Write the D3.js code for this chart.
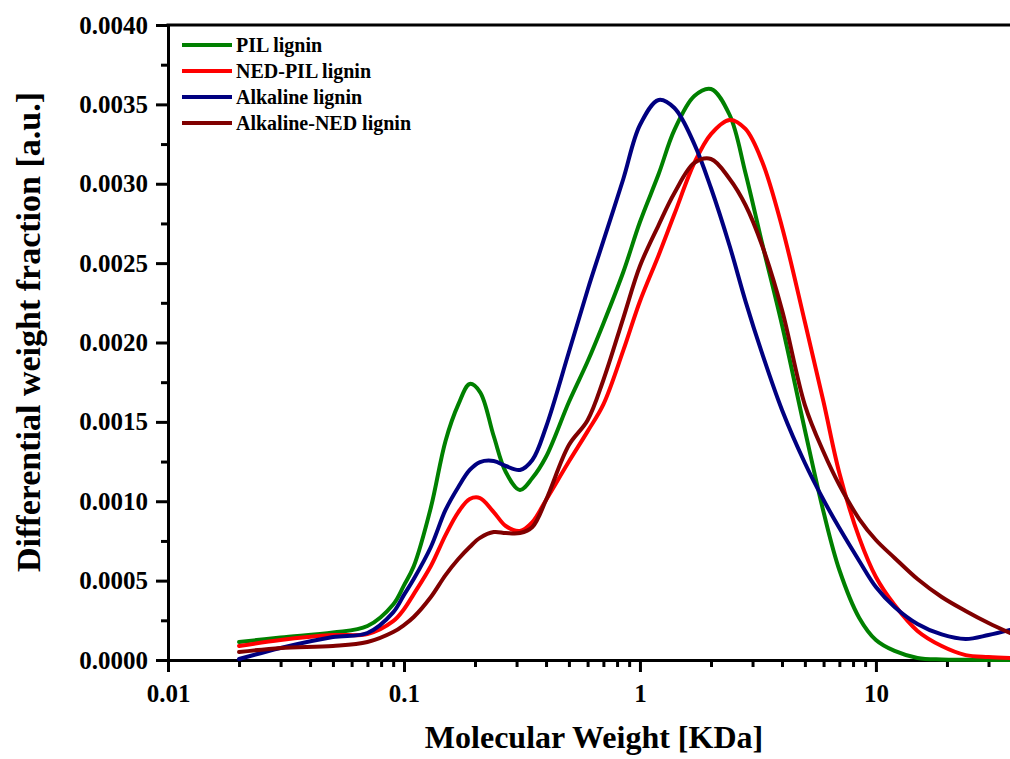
<!DOCTYPE html>
<html>
<head>
<meta charset="utf-8">
<script src="https://cdn.jsdelivr.net/npm/d3@7"></script>
<style>
  body { margin: 0; background: #fff; }
  #chart text { font-family: "Liberation Serif", "Times New Roman", serif; font-weight: bold; fill: #000; }
</style>
</head>
<body>
<div id="chart"></div>
<script>
// Molecular weight [KDa]
var molWeight = [0.02, 0.03, 0.05, 0.07, 0.09, 0.1, 0.11, 0.13, 0.15, 0.17, 0.19, 0.21, 0.24, 0.27, 0.31, 0.35, 0.4, 0.5, 0.6, 0.7,
  0.85, 1.0, 1.2, 1.4, 1.7, 2.0, 2.4, 2.8, 3.3, 4, 5, 6, 7, 8.5, 10, 12, 15, 19, 24, 30, 37];

var pilLignin = [0.000113, 0.000142, 0.000173, 0.000214, 0.000350, 0.000470, 0.000590, 0.000960, 0.001380, 0.001610, 0.001739,
  0.001688, 0.001411, 0.001184, 0.001071, 0.001146, 0.001280, 0.001625, 0.001880, 0.002120, 0.002444, 0.002759, 0.003061,
  0.003339, 0.003553, 0.003597, 0.003433, 0.003068, 0.002620, 0.002110, 0.001449, 0.000932, 0.000567, 0.000265, 0.000126,
  0.000057, 0.000013, 0.000003, 0.000001, 0, 0];

var nedPilLignin = [0.000088, 0.000126, 0.000157, 0.000164, 0.000245, 0.000320, 0.000415, 0.000592, 0.000787, 0.000932, 0.001014,
  0.001020, 0.000932, 0.000844, 0.000813, 0.000869, 0.001008, 0.001250, 0.001440, 0.001610, 0.001950, 0.002260, 0.002550,
  0.002809, 0.003131, 0.003313, 0.003402, 0.003345, 0.003137, 0.002728, 0.002129, 0.001625, 0.001178, 0.000769, 0.000523,
  0.000346, 0.000183, 0.000088, 0.000031, 0.000019, 0.000013];

var alkalineLignin = [0.000006, 0.000076, 0.000145, 0.000170, 0.000300, 0.000410, 0.000510, 0.000712, 0.000945, 0.001090, 0.001197,
  0.001247, 0.001254, 0.001222, 0.001197, 0.001260, 0.001468, 0.001940, 0.002331, 0.002640, 0.003030, 0.003370, 0.003528,
  0.003477, 0.003250, 0.002973, 0.002608, 0.002261, 0.001928, 0.001575, 0.001241, 0.001008, 0.000831, 0.000624, 0.000460,
  0.000334, 0.000227, 0.000161, 0.000132, 0.000157, 0.000189];

var alkalineNedLignin = [0.000050, 0.000076, 0.000088, 0.000113, 0.000176, 0.000220, 0.000271, 0.000397, 0.000535, 0.000636, 0.000712,
  0.000769, 0.000806, 0.000800, 0.000800, 0.000838, 0.001008, 0.001354, 0.001510, 0.001764, 0.002154, 0.002482, 0.002740,
  0.002942, 0.003131, 0.003156, 0.003030, 0.002866, 0.002608, 0.002205, 0.001606, 0.001310, 0.001102, 0.000888, 0.000756,
  0.000643, 0.000510, 0.000397, 0.000309, 0.000233, 0.000170];

var seriesNames = ["PIL lignin", "NED-PIL lignin", "Alkaline lignin", "Alkaline-NED lignin"];
var seriesValues = [pilLignin, nedPilLignin, alkalineLignin, alkalineNedLignin];
var seriesColors = ["#008000", "#ff0000", "#000080", "#800000"];

var yTicks = [0, 0.0005, 0.001, 0.0015, 0.002, 0.0025, 0.003, 0.0035, 0.004];
var yMinorTicks = [0.00025, 0.00075, 0.00125, 0.00175, 0.00225, 0.00275, 0.00325, 0.00375];
var xTicks = [0.01, 0.1, 1, 10];
var xMinorTicks = [0.02, 0.03, 0.04, 0.05, 0.06, 0.07, 0.08, 0.09, 0.2, 0.3, 0.4, 0.5, 0.6, 0.7, 0.8, 0.9,
  2, 3, 4, 5, 6, 7, 8, 9, 20, 30];

var width = 1010,
  height = 759,
  plotLeft = 168,
  plotRight = 1010,
  plotTop = 25,
  plotBottom = 660;

var x = d3.scaleLog().domain([0.01, 37]).range([plotLeft, plotRight]);
var y = d3.scaleLinear().domain([0, 0.004]).range([plotBottom, plotTop]);

var svg = d3.select("#chart")
  .append("svg")
  .attr("width", width)
  .attr("height", height);

// Clip Setting
svg.append("clipPath")
  .attr("id", "plot-clip")
  .append("rect")
  .attr("x", plotLeft)
  .attr("y", plotTop - 5)
  .attr("width", plotRight - plotLeft)
  .attr("height", plotBottom - plotTop + 10);

function styleAxis(g, fontSize) {
  g.attr("font-family", null).attr("font-size", null);
  g.selectAll("path, line").attr("stroke", "#000").attr("stroke-width", 3);
  g.selectAll("text").style("font-size", fontSize + "px");
}

// Y Axis Setting
svg.append("g")
  .attr("transform", "translate(" + plotLeft + ",0)")
  .call(d3.axisLeft(y).tickValues(yMinorTicks).tickSize(7).tickSizeOuter(0).tickFormat(""))
  .call(styleAxis, 25);

svg.append("g")
  .attr("transform", "translate(" + plotLeft + ",0)")
  .call(d3.axisLeft(y).tickValues(yTicks).tickSize(12).tickSizeOuter(0).tickPadding(8).tickFormat(d3.format(".4f")))
  .call(styleAxis, 25);

// X Axis Setting
svg.append("g")
  .attr("transform", "translate(0," + plotBottom + ")")
  .call(d3.axisBottom(x).tickValues(xMinorTicks).tickSize(7).tickSizeOuter(0).tickFormat(""))
  .call(styleAxis, 25);

svg.append("g")
  .attr("transform", "translate(0," + plotBottom + ")")
  .call(d3.axisBottom(x).tickValues(xTicks).tickSize(12).tickSizeOuter(0).tickPadding(12).tickFormat(d3.format("~g")))
  .call(styleAxis, 25);

// Top frame line
svg.append("line")
  .attr("x1", plotLeft - 1.5)
  .attr("x2", plotRight)
  .attr("y1", plotTop)
  .attr("y2", plotTop)
  .attr("stroke", "#000")
  .attr("stroke-width", 3);

// Line Setting
var line = d3.line()
  .x(function(d) { return x(d[0]); })
  .y(function(d) { return y(d[1]); })
  .curve(d3.curveCatmullRom.alpha(0.5));

svg.append("g")
  .attr("clip-path", "url(#plot-clip)")
  .selectAll("path")
  .data(seriesValues)
  .enter()
  .append("path")
  .attr("fill", "none")
  .attr("stroke", function(d, i) { return seriesColors[i]; })
  .attr("stroke-width", 4)
  .attr("stroke-linejoin", "round")
  .attr("stroke-linecap", "round")
  .attr("d", function(values) {
    return line(molWeight.map(function(m, i) { return [m, values[i]]; }));
  });

// Legend Setting
var legend = svg.append("g")
  .selectAll("g")
  .data(seriesNames)
  .enter()
  .append("g")
  .attr("transform", function(d, i) { return "translate(182," + (45 + i * 26) + ")"; });

legend.append("line")
  .attr("x1", 0)
  .attr("x2", 50)
  .attr("stroke", function(d, i) { return seriesColors[i]; })
  .attr("stroke-width", 4);

legend.append("text")
  .attr("x", 54)
  .attr("dy", "0.35em")
  .style("font-size", "20px")
  .text(function(d) { return d; });

// Axis titles
svg.append("text")
  .attr("x", (plotLeft + plotRight) / 2 + 5)
  .attr("y", 748)
  .attr("text-anchor", "middle")
  .style("font-size", "32px")
  .text("Molecular Weight [KDa]");

svg.append("text")
  .attr("transform", "translate(40," + 332 + ") rotate(-90)")
  .attr("text-anchor", "middle")
  .style("font-size", "34px")
  .text("Differential weight fraction [a.u.]");
</script>
</body>
</html>
